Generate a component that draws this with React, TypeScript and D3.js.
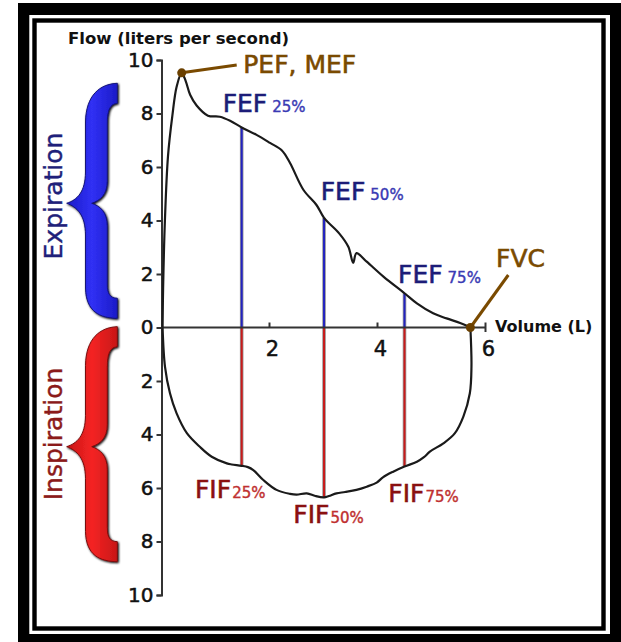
import React, { useEffect, useRef } from 'react';
import * as d3 from 'd3';

// flow-volume loop: volume in litres, flow in L/s (inspiration negative)
const expirationVolume = [0.02, 0.03, 0.065, 0.12, 0.2, 0.28, 0.374, 0.45, 0.53, 0.65, 0.86, 1.08, 1.27, 1.485, 1.76, 2.01, 2.23, 2.38, 2.63, 2.87, 3.01, 3.29, 3.46, 3.55, 3.61, 3.8, 4.11, 4.5, 4.73, 5.03, 5.28, 5.53, 5.72];
const expirationFlow = [0, 1.5, 4.1, 6.4, 7.9, 9.0, 9.52, 9.2, 8.7, 8.3, 7.92, 7.88, 7.73, 7.48, 7.2, 6.9, 6.62, 6.15, 5.14, 4.58, 4.1, 3.52, 3.02, 2.42, 2.78, 2.46, 1.9, 1.28, 0.9, 0.53, 0.34, 0.17, 0];

const inspirationVolume = [5.72, 5.74, 5.71, 5.59, 5.43, 5.22, 4.97, 4.86, 4.73, 4.5, 4.29, 4.1, 3.985, 3.8, 3.61, 3.4, 3.24, 3.1, 3.01, 2.85, 2.69, 2.5, 2.38, 2.13, 1.885, 1.7, 1.6, 1.485, 1.3, 1.21, 0.93, 0.71, 0.47, 0.28, 0.157, 0.065, 0.02];
const inspirationFlow = [0, -1.47, -2.46, -3.33, -3.96, -4.33, -4.64, -4.85, -5.02, -5.2, -5.39, -5.6, -5.8, -5.95, -6.07, -6.15, -6.2, -6.3, -6.35, -6.3, -6.2, -6.25, -6.22, -6.07, -5.7, -5.33, -5.22, -5.17, -5.12, -5.08, -4.83, -4.46, -3.95, -3.21, -2.46, -1.47, 0];

const markerVolume = [1.485, 3.01, 4.5];
const fefFlow = [7.48, 4.1, 1.28];
const fifFlow = [-5.17, -6.35, -5.2];
const percentLabels = ['25%', '50%', '75%'];

const flowTicks = [-10, -8, -6, -4, -2, 0, 2, 4, 6, 8, 10];
const volumeTicks = [2, 4, 6];

const pef = { volume: 0.374, flow: 9.52 };
const fvc = { volume: 5.72, flow: 0 };

const FONT = '"DejaVu Sans", sans-serif';

// brace outline, drawn for the expiration side and shifted down for inspiration
const bracePath =
  'M117.3,83.3 C100,84 86,95 85.5,122 L85.5,172 C85.5,192 77,200 66.7,203.3 ' +
  'C77,207 85.5,215 85.5,235 L85.5,288 C86,312 100,318 117.3,318.3 L117.3,298.3 ' +
  'C110,298 107.3,294 107.3,284 L107.3,226 C107.3,212 100,206 91.7,203.3 ' +
  'C100,200.5 107.3,195 107.3,181 L107.3,124 C107.3,110 110,104 117.3,103.3 Z';

export default function App() {
  const yAxisRef = useRef<SVGGElement>(null);

  const x = d3.scaleLinear().domain([0, 6]).range([161.5, 485.5]);
  const y = d3.scaleLinear().domain([-10, 10]).range([595, 60]);

  const expPath = d3
    .line<number>()
    .x((_, i) => x(expirationVolume[i]))
    .y((_, i) => y(expirationFlow[i]))
    .curve(d3.curveCatmullRom.alpha(0.5))(expirationVolume);
  const inspPath = d3
    .line<number>()
    .x((_, i) => x(inspirationVolume[i]))
    .y((_, i) => y(inspirationFlow[i]))
    .curve(d3.curveCatmullRom.alpha(0.5))(inspirationVolume);

  useEffect(() => {
    const g = d3.select(yAxisRef.current);
    g.selectAll('*').remove();
    g.call(
      d3
        .axisLeft(y)
        .tickValues(flowTicks)
        .tickSize(5)
        .tickPadding(3)
        .tickFormat((d) => String(Math.abs(d as number)))
    );
    g.attr('font-family', FONT).attr('font-size', 20);
    g.select('.domain').attr('stroke', '#333').attr('stroke-width', 2);
    g.selectAll('.tick line').attr('stroke', '#333').attr('stroke-width', 2);
    g.selectAll('.tick text').attr('fill', '#111').attr('stroke', '#111').attr('stroke-width', 0.5);
  });

  const fefDx = [-19, -3.3, -6.5];
  const fefBase = [111.7, 200, 282.7];
  const fifDx = [-46.7, -30.7, -16.2];
  const fifBase = [498.3, 523.3, 501.7];

  return (
    <svg width={621} height={642} style={{ position: 'absolute', left: 0, top: 0, background: '#fff' }}>
      <defs>
        <filter id="soft" x="-20%" y="-20%" width="140%" height="140%">
          <feGaussianBlur in="SourceAlpha" stdDeviation="1.2" result="b" />
          <feOffset dx="1" dy="1" result="o" />
          <feComposite in="SourceGraphic" in2="o" operator="over" />
        </filter>
        <linearGradient id="blueG" x1="0" x2="1" y1="0" y2="0">
          <stop offset="0" stopColor="#1c1cc8" />
          <stop offset="0.5" stopColor="#3030f4" />
          <stop offset="1" stopColor="#1c1cc8" />
        </linearGradient>
        <linearGradient id="redG" x1="0" x2="1" y1="0" y2="0">
          <stop offset="0" stopColor="#c81616" />
          <stop offset="0.5" stopColor="#f42424" />
          <stop offset="1" stopColor="#c81616" />
        </linearGradient>
      </defs>

      {/* frame */}
      <rect x={18} y={3} width={603} height={639} fill="#000" />
      <rect x={29.3} y={15} width={580.7} height={619} fill="#fff" />
      <rect x={34.5} y={20.5} width={569} height={608} fill="#fff" stroke="#000" strokeWidth={4.4} />

      {/* braces */}
      <path d={bracePath} fill="url(#blueG)" stroke="#141478" strokeWidth={1} filter="url(#soft)" />
      <path
        d={bracePath}
        transform="translate(0,243.4)"
        fill="url(#redG)"
        stroke="#7a1010"
        strokeWidth={1}
        filter="url(#soft)"
      />
      <text
        transform="translate(61.5,196) rotate(-90)"
        textAnchor="middle"
        fontFamily={FONT}
        fontSize={25}
        fill="#1f1f7a"
        stroke="#1f1f7a"
        strokeWidth={0.4}
      >
        Expiration
      </text>
      <text
        transform="translate(61.5,434) rotate(-90)"
        textAnchor="middle"
        fontFamily={FONT}
        fontSize={25}
        fill="#8b1a1a"
        stroke="#8b1a1a"
        strokeWidth={0.4}
      >
        Inspiration
      </text>

      {/* axis titles */}
      <text x={68} y={44} fontFamily={FONT} fontSize={16.5} fontWeight="bold" fill="#111">
        Flow (liters per second)
      </text>
      <text x={495} y={332} fontFamily={FONT} fontSize={16} fontWeight="bold" fill="#111">
        Volume (L)
      </text>

      {/* FEF / FIF verticals */}
      {markerVolume.map((v, i) => (
        <g key={'m' + i}>
          <line x1={x(v)} x2={x(v)} y1={y(0)} y2={y(fefFlow[i])} stroke="#999" strokeWidth={3.6} />
          <line x1={x(v)} x2={x(v)} y1={y(0)} y2={y(fefFlow[i])} stroke="#2222c0" strokeWidth={2} />
          <line x1={x(v)} x2={x(v)} y1={y(0)} y2={y(fifFlow[i])} stroke="#999" strokeWidth={3.6} />
          <line x1={x(v)} x2={x(v)} y1={y(0)} y2={y(fifFlow[i])} stroke="#c81a1a" strokeWidth={2} />
        </g>
      ))}

      {/* y axis */}
      <g ref={yAxisRef} transform={`translate(${x(0)},0)`} />

      {/* x axis */}
      <line x1={x(0)} x2={x(6)} y1={y(0)} y2={y(0)} stroke="#333" strokeWidth={2} />
      {volumeTicks.map((t) => (
        <g key={'xt' + t}>
          <line
            x1={x(t)}
            x2={x(t)}
            y1={y(0) - 5}
            y2={t === 6 ? y(0) + 4.5 : y(0)}
            stroke="#333"
            strokeWidth={2}
          />
          <text
            x={x(t) + 3}
            y={355.5}
            textAnchor="middle"
            fontFamily={FONT}
            fontSize={21}
            fill="#111"
            stroke="#111"
            strokeWidth={0.5}
          >
            {t}
          </text>
        </g>
      ))}

      {/* loop */}
      <path d={expPath ?? ''} fill="none" stroke="#1a1a1a" strokeWidth={2.2} strokeLinejoin="round" />
      <path d={inspPath ?? ''} fill="none" stroke="#1a1a1a" strokeWidth={2.2} strokeLinejoin="round" />

      {/* labels */}
      {markerVolume.map((v, i) => (
        <g key={'l' + i}>
          <text
            x={x(v) + fefDx[i]}
            y={fefBase[i]}
            fontFamily={FONT}
            fontSize={25}
            fill="#1c1c78"
            stroke="#1c1c78"
            strokeWidth={0.6}
          >
            FEF
            <tspan dx={5} fontSize={15} fill="#3a3ab4" stroke="#3a3ab4" strokeWidth={0.4}>
              {percentLabels[i]}
            </tspan>
          </text>
          <text
            x={x(v) + fifDx[i]}
            y={fifBase[i]}
            fontFamily={FONT}
            fontSize={25}
            fill="#8a1010"
            stroke="#8a1010"
            strokeWidth={0.6}
          >
            FIF
            <tspan dx={1} fontSize={15} fill="#c03030" stroke="#c03030" strokeWidth={0.4}>
              {percentLabels[i]}
            </tspan>
          </text>
        </g>
      ))}

      {/* PEF / FVC callouts */}
      <line x1={x(pef.volume)} y1={y(pef.flow)} x2={236.7} y2={65} stroke="#7a4a00" strokeWidth={3} />
      <circle cx={x(pef.volume)} cy={y(pef.flow)} r={4.5} fill="#6b4000" />
      <text x={243.3} y={73.3} fontFamily={FONT} fontSize={25} fill="#7a4a00" stroke="#7a4a00" strokeWidth={0.6}>
        PEF, MEF
      </text>
      <line x1={x(fvc.volume)} y1={y(fvc.flow)} x2={508.3} y2={275} stroke="#7a4a00" strokeWidth={3} />
      <circle cx={x(fvc.volume)} cy={y(fvc.flow)} r={4.5} fill="#6b4000" />
      <text x={496} y={267.3} fontFamily={FONT} fontSize={25} fill="#7a4a00" stroke="#7a4a00" strokeWidth={0.6}>
        FVC
      </text>
    </svg>
  );
}
